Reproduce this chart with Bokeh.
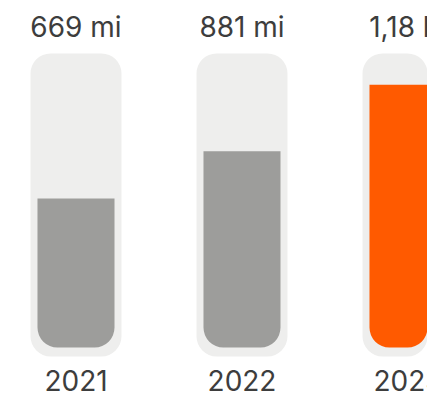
from bokeh.plotting import figure
from bokeh.models import Range1d, ColumnDataSource
from bokeh.core.properties import value
from bokeh.embed import file_html
from bokeh.resources import INLINE

years = ["2021", "2022", "2023"]
values = [669, 881, 1180]
value_labels = ["669 mi", "881 mi", "1,18 bi"]
bar_colors = ["#9d9d9b", "#9d9d9b", "#ff5a00"]

TUBE_TOP = 1320
TUBE_BOTTOM = -40
FONT = "Inter"
TEXT_COLOR = "#3d3d3d"

xs = list(range(len(years)))
src = ColumnDataSource(dict(
    x=xs, year=years, val=values, lab=value_labels, color=bar_colors,
    top_lab=[1437] * len(xs), bot_lab=[-150] * len(xs),
))

p = figure(width=427, height=396, output_backend="svg", toolbar_location=None,
           x_range=Range1d(-0.4548, 2.1175), y_range=Range1d(-220, 1558),
           min_border=0)
p.axis.visible = False
p.grid.visible = False
p.outline_line_color = None
p.background_fill_color = "white"
p.border_fill_color = "white"

p.vbar(x="x", top=TUBE_TOP, bottom=TUBE_BOTTOM, width=0.548, source=src,
       fill_color="#eeeeed", line_color=None, border_radius=20)
p.vbar(x="x", top="val", bottom=0, width=0.464, source=src,
       fill_color="color", line_color=None, border_radius=(0, 0, 20, 20))

p.text(x="x", y="top_lab", text="lab", source=src, text_align="center",
       text_baseline="middle", text_font=value(FONT), text_font_size="28px",
       text_color=TEXT_COLOR)
p.text(x="x", y="bot_lab", text="year", source=src, text_align="center",
       text_baseline="middle", text_font=value(FONT), text_font_size="28px",
       text_color=TEXT_COLOR)

open("out.html", "w").write(file_html(p, INLINE))
